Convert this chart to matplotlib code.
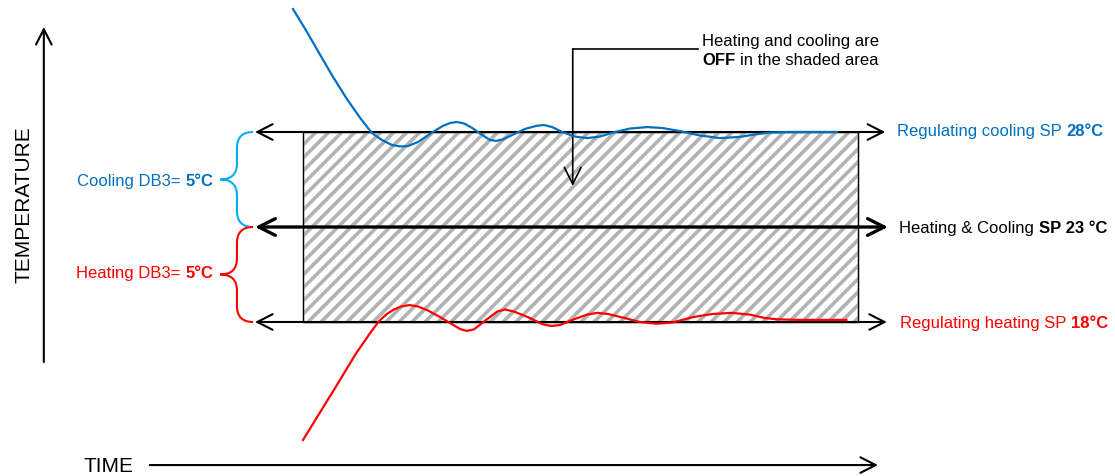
import numpy as np
import matplotlib
matplotlib.use("Agg")
import matplotlib.pyplot as plt
import matplotlib.transforms as mtransforms
from matplotlib.patches import Rectangle, PathPatch
from matplotlib.path import Path
from matplotlib.collections import LineCollection

plt.rcParams['font.family'] = ['Liberation Sans', 'DejaVu Sans']

# set points (deg C)
sp_cool = 28.0
sp_mid = 23.0
sp_heat = 18.0

# time span of the dead band box (arbitrary units)
t_box = [0.0, 10.0]

# cooling response (time, temperature)
cool_t = [-0.18, 0.04, 0.27, 0.52, 0.79, 1.03, 1.24, 1.42, 1.60, 1.75, 1.89, 2.07,
          2.34, 2.52, 2.65, 2.77, 2.90, 3.05, 3.23, 3.37, 3.48, 3.60, 3.77, 4.00,
          4.20, 4.34, 4.49, 4.67, 4.90, 5.12, 5.35, 5.62, 5.89, 6.20, 6.47, 6.79,
          7.15, 7.51, 7.87, 8.14, 8.41, 8.77, 9.62]
cool_T = [34.47, 33.42, 32.26, 31.00, 29.74, 28.74, 27.95, 27.58, 27.32, 27.24, 27.26, 27.47,
          28.00, 28.32, 28.47, 28.53, 28.45, 28.21, 27.84, 27.58, 27.53, 27.61, 27.84, 28.16,
          28.32, 28.37, 28.26, 28.00, 27.76, 27.68, 27.76, 28.00, 28.18, 28.26, 28.21, 28.05,
          27.82, 27.68, 27.74, 27.87, 27.97, 28.00, 28.00]

# heating response (time, temperature)
heat_t = [0.00, 0.31, 0.61, 0.95, 1.21, 1.37, 1.51, 1.64, 1.77, 1.92, 2.07, 2.25,
          2.47, 2.68, 2.83, 2.95, 3.08, 3.30, 3.50, 3.64, 3.80, 4.05, 4.31, 4.47,
          4.63, 4.88, 5.12, 5.30, 5.50, 5.78, 6.07, 6.37, 6.65, 7.03, 7.37, 7.72,
          8.05, 8.32, 8.55, 8.95, 9.79]
heat_T = [11.79, 13.26, 14.68, 16.32, 17.42, 18.05, 18.42, 18.66, 18.82, 18.89, 18.82, 18.61,
          18.26, 17.89, 17.63, 17.53, 17.61, 18.11, 18.55, 18.66, 18.55, 18.26, 17.89, 17.79,
          17.84, 18.14, 18.39, 18.48, 18.42, 18.22, 18.00, 17.91, 17.97, 18.26, 18.42, 18.48,
          18.39, 18.21, 18.14, 18.11, 18.11]

BLUE = '#0070C0'
LBLUE = '#00B0F0'
RED = '#FF0000'
FS = 12

fig = plt.figure(figsize=(11.15, 4.77), dpi=100)
ax = fig.add_axes([0, 0, 1, 1])
ax.set_xlim(-303 / 55.5, 812 / 55.5)
ax.set_ylim(23 - 249 / 19., 23 + 228 / 19.)
ax.axis('off')
renderer = fig.canvas.get_renderer()

# shaded dead band
box = Rectangle((t_box[0], sp_heat), t_box[1] - t_box[0], sp_cool - sp_heat,
                facecolor='white', edgecolor='black', lw=0.9, zorder=1)
ax.add_patch(box)
# diagonal stripes (45 deg on screen)
dt_stripe = (sp_cool - sp_heat) * 19 / 55.5
offs = np.arange(t_box[0] - dt_stripe, t_box[1] + 0.3, 13 / 55.5)
segs = [[(o, sp_heat), (o + dt_stripe, sp_cool)] for o in offs]
lc = LineCollection(segs, colors='#b3b3b3', linewidths=2.6, zorder=1.5)
ax.add_collection(lc)
lc.set_clip_path(box)
ax.add_patch(Rectangle((t_box[0], sp_heat), t_box[1] - t_box[0], sp_cool - sp_heat,
                       facecolor='none', edgecolor='black', lw=0.9, zorder=2))


def arrow(x0, y0, x1, y1, style='->', lw=1.5, hl=0.55, hw=0.28, color='black'):
    ax.annotate('', xy=(x1, y1), xytext=(x0, y0), zorder=3,
                arrowprops=dict(arrowstyle='%s,head_length=%s,head_width=%s' % (style, hl, hw),
                                lw=lw, color=color, shrinkA=0, shrinkB=0, mutation_scale=20))


# set point lines
arrow(-0.865, sp_cool, 10.49, sp_cool, '<->', lw=1.5)
arrow(-0.865, sp_mid, 10.54, sp_mid, '<->', lw=2.4, hl=0.6, hw=0.3)
arrow(-0.865, sp_heat, 10.52, sp_heat, '<->', lw=1.5)

# axes arrows
arrow(-2.76, 10.47, 10.36, 10.47, '->', lw=1.5)
arrow(-4.67, 15.89, -4.67, 33.53, '->', lw=1.5)
ax.text(-5.03, 24.21, 'TEMPERATURE', rotation=90, ha='center', va='center', fontsize=15)
ax.text(-3.96, 10.47, 'TIME', ha='left', va='center', fontsize=15)

# responses
ax.plot(cool_t, cool_T, color=BLUE, lw=1.6, zorder=4, solid_joinstyle='round')
ax.plot(heat_t, heat_T, color=RED, lw=1.6, zorder=4, solid_joinstyle='round')


def brace(x_end, x_mid, x_tip, y0, y1, color):
    r = (y1 - y0) * 16 / 95.
    ym = (y0 + y1) / 2.
    verts = [(x_end, y1), (x_mid, y1), (x_mid, y1 - r),
             (x_mid, ym + r),
             (x_mid, ym), (x_tip, ym),
             (x_mid, ym), (x_mid, ym - r),
             (x_mid, y0 + r),
             (x_mid, y0), (x_end, y0)]
    codes = [Path.MOVETO, Path.CURVE3, Path.CURVE3, Path.LINETO,
             Path.CURVE3, Path.CURVE3, Path.CURVE3, Path.CURVE3,
             Path.LINETO, Path.CURVE3, Path.CURVE3]
    ax.add_patch(PathPatch(Path(verts, codes), facecolor='none', edgecolor=color,
                           lw=1.5, zorder=3))


brace(-0.90, -1.19, -1.49, sp_mid, sp_cool, LBLUE)
brace(-0.90, -1.19, -1.49, sp_heat, sp_mid, RED)


def rich(x, y, parts, color='black', ha='left', fs=FS):
    space = 0.278 * fs * fig.dpi / 72.
    off = 0.
    seq = parts if ha == 'left' else parts[::-1]
    for s, w in seq:
        tr = mtransforms.offset_copy(ax.transData, fig=fig, x=off, y=0, units='dots')
        t = ax.text(x, y, s, transform=tr, ha=ha, va='center', fontsize=fs,
                    fontweight=w, color=color, zorder=5)
        wpx = t.get_window_extent(renderer).width + space
        off += wpx if ha == 'left' else -wpx


rich(10.70, 28.1, [('Regulating cooling SP', 'normal'), ('28°C', 'bold')], BLUE)
rich(10.74, 22.95, [('Heating & Cooling', 'normal'), ('SP 23 °C', 'bold')], 'black')
rich(10.76, 17.95, [('Regulating heating SP', 'normal'), ('18°C', 'bold')], RED)
rich(-1.62, 25.47, [('Cooling DB3=', 'normal'), ('5°C', 'bold')], BLUE, ha='right')
rich(-1.62, 20.63, [('Heating DB3=', 'normal'), ('5°C', 'bold')], RED, ha='right')

# callout
ax.text(7.19, 32.84, 'Heating and cooling are', ha='left', va='center', fontsize=FS)
rich(7.19, 31.79, [('OFF', 'bold'), ('in the shaded area', 'normal')])
ax.plot([7.12, 4.86], [32.37, 32.37], color='black', lw=1.2, zorder=3)
arrow(4.86, 32.37, 4.86, 25.16, '->', lw=1.2, hl=0.6, hw=0.3)

fig.savefig('out.png', dpi=100)
